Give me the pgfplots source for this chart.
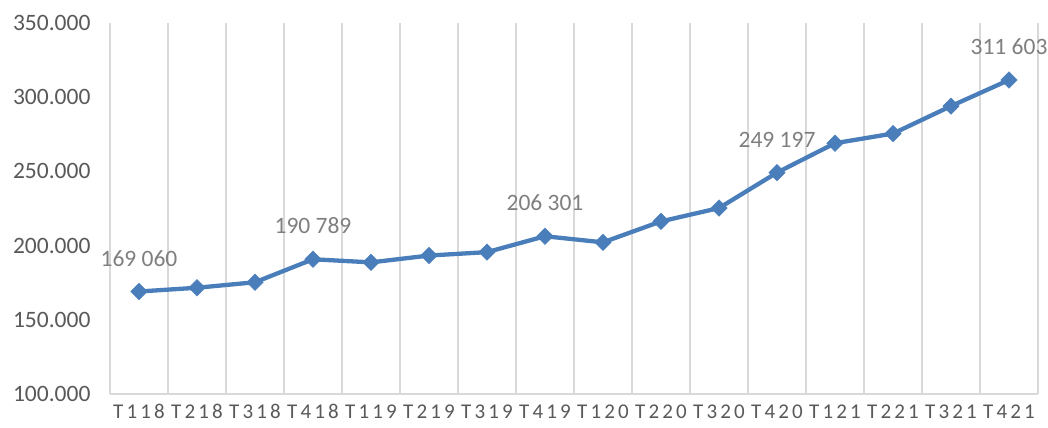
\documentclass[border=0pt]{standalone}
\usepackage{pgfplots}
\pgfplotsset{compat=1.18}
\usepackage{fontspec}
\setmainfont{Carlito}
\newfontfamily\xfont[LetterSpace=15]{Carlito}
\definecolor{linecol}{HTML}{4A7EBB}
\definecolor{tickgray}{HTML}{595959}
\definecolor{labgray}{HTML}{7F7F7F}
\definecolor{gridgray}{HTML}{D9D9D9}
\begin{document}
\begin{tikzpicture}
\begin{axis}[name=ax, at={(0,0)}, anchor=south west,
  scale only axis, width=928bp, height=371bp,
  xmin=-0.5, xmax=15.5, ymin=100000, ymax=350000,
  scaled y ticks=false,
  axis x line=bottom, axis y line=left,
  x axis line style={draw=gridgray, line width=1.3bp, -},
  y axis line style={draw=none},
  xtick={0,...,15},
  xticklabels={T118,T218,T318,T418,T119,T219,T319,T419,T120,T220,T320,T420,T121,T221,T321,T421},
  minor xtick={-0.5,0.5,...,15.5},
  xminorgrids=true,
  minor grid style={draw=gridgray, line width=1.2bp},
  ytick={100000,150000,200000,250000,300000,350000},
  yticklabels={100.000,150.000,200.000,250.000,300.000,350.000},
  major tick length=0, minor tick length=0,
  xticklabel style={font=\xfont\fontsize{21bp}{24bp}\selectfont, text=tickgray, yshift=-7bp},
  yticklabel style={font=\fontsize{23.5bp}{27bp}\selectfont, text=tickgray, xshift=-16bp},
  clip=false,
]
\addplot[linecol, line width=4.3bp, mark=square*, mark size=5.8bp,
  mark options={rotate=45, fill=linecol, draw=linecol, line width=0.5bp}]
coordinates {
(0,169060) (1,171600) (2,175300) (3,190789) (4,188700) (5,193300)
(6,195600) (7,206301) (8,202200) (9,216300) (10,225300) (11,249197)
(12,269000) (13,275500) (14,294000) (15,311603)
};
\addplot[draw=none, mark=none, nodes near coords, point meta=explicit symbolic,
  nodes near coords style={font=\fontsize{23.5bp}{27bp}\selectfont, text=labgray, anchor=south, inner sep=0pt, yshift=25bp}]
coordinates {
(0,169060) [169 060]
(3,190789) [190 789]
(7,206301) [206 301]
(11,249197) [249 197]
(15,311603) [311 603]
};
\end{axis}
\pgfresetboundingbox
\path[use as bounding box] ([xshift=-110bp,yshift=-34bp]ax.south west) rectangle ([xshift=10bp,yshift=23bp]ax.north east);
\end{tikzpicture}
\end{document}
